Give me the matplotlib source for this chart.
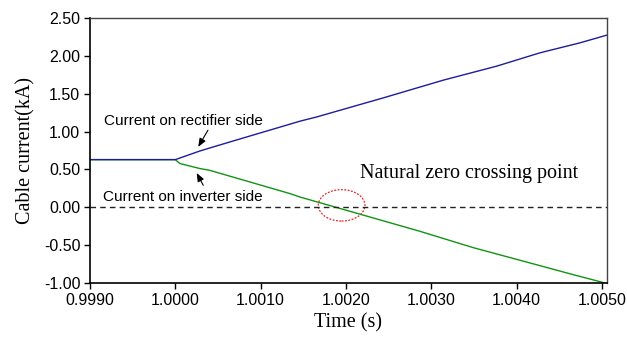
import matplotlib

matplotlib.use("Agg")
import matplotlib.pyplot as plt
from matplotlib.patches import Ellipse
from matplotlib.ticker import FormatStrFormatter, MultipleLocator

# time (s) and cable current (kA)
t_rect = [0.9990, 1.0000, 1.00029, 1.00068, 1.001462, 1.001658, 1.002439,
          1.003142, 1.003768, 1.004275, 1.004744, 1.00506]
i_rect = [0.63, 0.63, 0.745, 0.877, 1.138, 1.194, 1.446,
          1.680, 1.865, 2.041, 2.173, 2.275]

t_inv = [0.9990, 1.0000, 1.000055, 1.00029, 1.00040, 1.001345, 1.001462,
         1.002869, 1.003494, 1.004119, 1.004666, 1.004999, 1.00506]
i_inv = [0.63, 0.63, 0.578, 0.512, 0.490, 0.181, 0.136,
         -0.317, -0.533, -0.723, -0.890, -0.988, -1.010]

zero_cross = (1.00195, 0.026)

sans = "Liberation Sans"
serif = "Liberation Serif"

fig = plt.figure(figsize=(6.27, 3.41), dpi=100)
ax = fig.add_axes([0.1435, 0.170, 0.8245, 0.777])

ax.plot(t_inv, i_inv, color="#129412", lw=1.0)
ax.plot(t_rect, i_rect, color="#1c1c9c", lw=1.0)
ax.axhline(0, color="#222222", lw=1.0, ls=(0, (4, 3)))

ax.add_patch(Ellipse(zero_cross, 0.000547, 0.415, fill=False,
                     ec="#ee2222", lw=0.9, ls=(0, (1.5, 1.2))))

ax.set_xlim(0.9990, 1.00506)
ax.set_ylim(-1.0, 2.5)
ax.xaxis.set_major_locator(MultipleLocator(0.001))
ax.yaxis.set_major_locator(MultipleLocator(0.5))
ax.xaxis.set_major_formatter(FormatStrFormatter("%.4f"))
ax.yaxis.set_major_formatter(FormatStrFormatter("%.2f"))
ax.tick_params(direction="out", length=4, width=1, labelsize=11.5, pad=3)
for lab in ax.get_xticklabels() + ax.get_yticklabels():
    lab.set_family(sans)

for side in ("left", "bottom"):
    ax.spines[side].set_color("black")
    ax.spines[side].set_linewidth(1.2)
for side in ("top", "right"):
    ax.spines[side].set_color("#444444")
    ax.spines[side].set_linewidth(1.0)

ax.set_xlabel("Time (s)", family=serif, fontsize=14.5, labelpad=4)
ax.set_ylabel("Cable current(kA)", family=serif, fontsize=14.5, labelpad=6)

arrow = dict(arrowstyle="-|>,head_length=0.5,head_width=0.2",
             color="black", lw=0.8, shrinkA=0, shrinkB=0)
ax.text(1.00009, 1.138, "Current on rectifier side", ha="center",
        va="center", family=sans, fontsize=11)
ax.annotate("", xy=(1.000269, 0.798), xytext=(1.000383, 1.019),
            arrowprops=arrow)
ax.text(1.00009, 0.139, "Current on inverter side", ha="center",
        va="center", family=sans, fontsize=11)
ax.annotate("", xy=(1.000251, 0.454), xytext=(1.000328, 0.291),
            arrowprops=arrow)
ax.text(1.003443, 0.443, "Natural zero crossing point", ha="center",
        va="center", family=serif, fontsize=14.5)

fig.savefig("out.png", dpi=100)
